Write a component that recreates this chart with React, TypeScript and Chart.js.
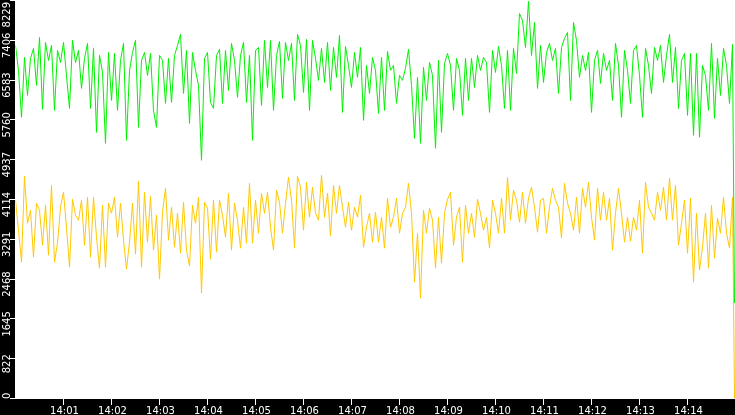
import React, { useEffect, useRef } from "react";
import { Chart, registerables } from "chart.js";

Chart.register(...registerables);

// seconds between samples, starting at 14:00:00
const SAMPLE_SECONDS = 3.75;

const greenSeries = [
  7289, 6773, 5803, 7042, 6257, 7021, 7228, 6464, 7455, 5968,
  7351, 6980, 7289, 5947, 7186, 6938, 7351, 6670, 5989, 7393,
  6938, 7186, 6402, 7021, 7331, 5989, 7228, 5493, 7083, 6732,
  5266, 7145, 6154, 7124, 5947, 6980, 7331, 5328, 6773, 7145,
  7393, 5596, 6980, 7145, 6670, 7124, 5947, 5596, 7083, 6980,
  6092, 7021, 6112, 7083, 7289, 7517, 6298, 7186, 5679, 7145,
  6773, 6464, 4915, 7021, 7145, 6112, 5989, 7083, 7207, 6092,
  7186, 6360, 7331, 6980, 6216, 7083, 7351, 6112, 7083, 5328,
  7186, 7248, 6050, 7393, 6422, 7393, 5947, 7083, 7372, 6195,
  7351, 6980, 7331, 6154, 7517, 7289, 6319, 7413, 5947, 7393,
  7021, 6567, 7228, 6525, 7351, 6360, 7248, 6629, 7496, 5906,
  7269, 6876, 6422, 7145, 6629, 7248, 5741, 6876, 6298, 7042,
  6773, 5885, 7042, 5947, 7166, 6773, 6876, 6092, 6670, 6567,
  6815, 7207, 6464, 5369, 6629, 5266, 6835, 6154, 6938, 6670,
  5163, 6980, 5493, 6918, 7124, 6876, 5947, 7021, 6773, 5844,
  7021, 6154, 7021, 6422, 7083, 6773, 7042, 6938, 5906, 7186,
  6732, 7269, 6876, 5989, 7186, 5947, 7228, 6711, 7950, 7806,
  7248, 8200, 7083, 7764, 6402, 7289, 6525, 7145, 7331, 6980,
  7228, 6298, 7248, 7434, 7558, 6154, 7764, 7393, 6629, 7083,
  6773, 7145, 5906, 6980, 7186, 6505, 7124, 6773, 6980, 6154,
  7331, 6876, 5803, 7186, 6773, 6092, 7186, 7289, 6670, 5803,
  7228, 6876, 6298, 7248, 6980, 7289, 6525, 7083, 7517, 6525,
  7248, 5989, 6980, 7124, 5844, 7124, 5431, 7124, 5390, 6876,
  6670, 5947, 7331, 5782, 7021, 6257, 7228, 6876, 6092, 7310,
  1962,
];

const yellowSeries = [
  4089, 3469, 2808, 4584, 3614, 3882, 2912, 4027, 3882, 3159,
  3985, 2953, 4398, 2808, 3201, 3944, 4254, 3531, 2705, 4109,
  3779, 3676, 4089, 3159, 4151, 2912, 4151, 3325, 2685, 3985,
  2705, 4027, 3820, 4151, 3325, 4027, 3263, 2664, 3221, 4027,
  2974, 4481, 2705, 4254, 3221, 4171, 3056, 3779, 2457, 3841,
  4337, 3263, 3944, 3118, 3820, 2994, 4047, 3056, 2726, 3985,
  3614, 4151, 2168, 4047, 3924, 2870, 4089, 3015, 4089, 3779,
  3325, 4233, 3056, 4027, 3676, 3098, 3944, 3201, 4440, 3201,
  4089, 3407, 4233, 3820, 4254, 3531, 3056, 4295, 4047, 3407,
  4027, 4564, 4089, 3098, 4584, 4357, 3469, 4460, 3738, 4357,
  3820, 3676, 4605, 3738, 4233, 3345, 4398, 3820, 4398, 3944,
  3531, 4047, 3469, 3944, 3738, 4192, 3118, 3531, 3820, 3221,
  3841, 3221, 3738, 3098, 4130, 3531, 3738, 4130, 3407, 3820,
  3944, 4440, 3820, 2395, 3407, 2065, 3882, 3407, 3924, 3676,
  2685, 3738, 2788, 3820, 4109, 4254, 3159, 3738, 3944, 2808,
  3985, 3407, 3820, 3325, 4109, 3820, 3469, 3738, 3098, 4089,
  3820, 3407, 4130, 3407, 4564, 3676, 4295, 4089, 3634, 4254,
  3614, 4130, 4357, 3944, 3428, 4089, 4130, 3407, 3944, 4337,
  4089, 3944, 3304, 4440, 4027, 3820, 3469, 4151, 3407, 4337,
  3944, 4460, 3738, 3263, 4337, 3676, 4254, 3676, 4130, 3056,
  3820, 4337, 3820, 3221, 3738, 3242, 3738, 3469, 4089, 2994,
  4460, 3944, 3820, 3676, 4254, 3882, 4357, 3676, 4543, 3676,
  4398, 3159, 3614, 4089, 2994, 4130, 2395, 3820, 2643, 3118,
  3820, 2685, 3985, 2891, 3717, 3407, 4151, 3407, 3098, 4151,
  0,
];

const yTickValues = [0, 822.9, 1645.8, 2468.7, 3291.6, 4114.5, 4937.4, 5760.3, 6583.2, 7406.1, 8229];
const yTickLabels = ["0", "822", "1645", "2468", "3291", "4114", "4937", "5760", "6583", "7406", "8229"];

const xTickSeconds = [60, 120, 180, 240, 300, 360, 420, 480, 540, 600, 660, 720, 780, 840];
const xTickLabels = [
  "14:01", "14:02", "14:03", "14:04", "14:05", "14:06", "14:07",
  "14:08", "14:09", "14:10", "14:11", "14:12", "14:13", "14:14",
];

const X_MAX_SECONDS = 900;
const Y_MAX = 8229;

export default function App() {
  const ref = useRef<HTMLCanvasElement>(null);

  useEffect(() => {
    document.body.style.margin = "0";
    const canvas = ref.current;
    if (!canvas) return;

    const sampleTimes = greenSeries.map((_, i) => Math.min(i * SAMPLE_SECONDS, X_MAX_SECONDS - 1.25));

    const framePlugin = {
      id: "frame",
      beforeDraw(chart: any) {
        const { ctx, chartArea: a, width, height } = chart;
        ctx.save();
        ctx.fillStyle = "#000000";
        ctx.fillRect(0, 0, width, height);
        ctx.fillStyle = "#ffffff";
        ctx.fillRect(a.left, a.top, a.right - a.left, a.bottom - a.top + 1);
        ctx.restore();
      },
      beforeDatasetsDraw(chart: any) {
        chart.ctx.save();
        chart.ctx.translate(0.5, 0);
      },
      afterDatasetsDraw(chart: any) {
        chart.ctx.restore();
      },
      afterDraw(chart: any) {
        const { ctx, chartArea: a } = chart;
        const xs = chart.scales.x;
        const ys = chart.scales.y;
        ctx.save();
        ctx.strokeStyle = "#ffffff";
        ctx.fillStyle = "#ffffff";
        ctx.lineWidth = 1;
        ctx.font = "10px 'DejaVu Sans'";

        xTickSeconds.forEach((s, i) => {
          const px = Math.round(xs.getPixelForValue(s)) + 0.5;
          ctx.beginPath();
          ctx.moveTo(px, a.bottom + 1);
          ctx.lineTo(px, a.bottom + 7);
          ctx.stroke();
          ctx.textAlign = "center";
          ctx.textBaseline = "alphabetic";
          ctx.fillText(xTickLabels[i], px + 1, a.bottom + 16);
        });

        yTickValues.forEach((v, i) => {
          const raw = ys.getPixelForValue(v);
          const py = Math.round(raw) + 0.5;
          ctx.beginPath();
          ctx.moveTo(a.left - 5, py);
          ctx.lineTo(a.left, py);
          ctx.stroke();
          const w = ctx.measureText(yTickLabels[i]).width;
          let cy = raw + 5.5;
          cy = Math.max(a.top + 2 + w / 2, Math.min(a.bottom + 1 - w / 2, cy));
          ctx.save();
          ctx.translate(a.left - 5.5, cy);
          ctx.rotate(-Math.PI / 2);
          ctx.textAlign = "center";
          ctx.textBaseline = "alphabetic";
          ctx.fillText(yTickLabels[i], 0, 0);
          ctx.restore();
        });
        ctx.restore();
      },
    };

    const chart = new Chart(canvas, {
      type: "line",
      data: {
        datasets: [
          {
            label: "green",
            data: greenSeries.map((v, i) => ({ x: sampleTimes[i], y: v })),
            borderColor: "#00f000",
            borderWidth: 1,
            pointRadius: 0,
            tension: 0,
            fill: false,
          },
          {
            label: "yellow",
            data: yellowSeries.map((v, i) => ({ x: sampleTimes[i], y: v })),
            borderColor: "#ffc800",
            borderWidth: 1,
            pointRadius: 0,
            tension: 0,
            fill: false,
          },
        ],
      },
      options: {
        responsive: false,
        animation: false,
        layout: { padding: { left: 15, right: 0, top: 0, bottom: 17 } },
        plugins: {
          legend: { display: false },
          tooltip: { enabled: false },
        },
        scales: {
          x: { type: "linear", min: 0, max: X_MAX_SECONDS, display: false },
          y: { type: "linear", min: 0, max: Y_MAX, display: false },
        },
      },
      plugins: [framePlugin],
    });

    return () => chart.destroy();
  }, []);

  return (
    <div style={{ width: 735, height: 415 }}>
      <canvas ref={ref} width={735} height={415} style={{ display: "block" }} />
    </div>
  );
}
